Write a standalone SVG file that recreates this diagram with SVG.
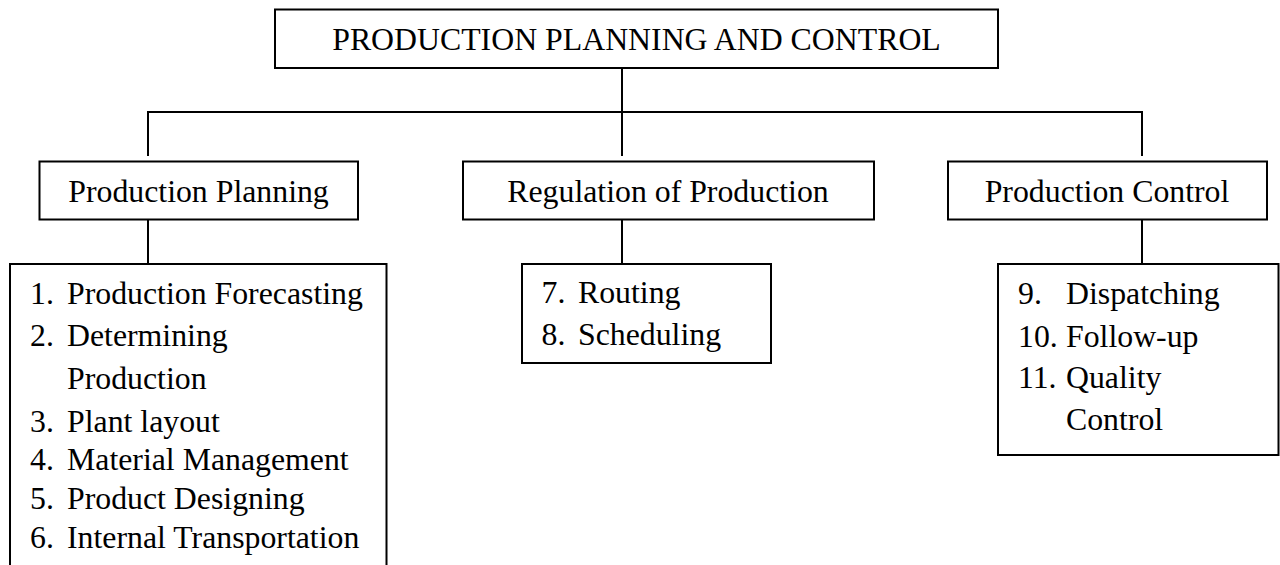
<svg xmlns="http://www.w3.org/2000/svg" width="1280" height="565" viewBox="0 0 1280 565">
<style>
  .box { fill: #ffffff; stroke: #000000; stroke-width: 2; }
  .conn line { stroke: #000000; stroke-width: 2; fill: none; }
  text { font-family: "Liberation Serif", "Times New Roman", serif; font-size: 31.8px; fill: #000000; }
  .c { text-anchor: middle; }
</style>
<rect x="0" y="0" width="1280" height="565" fill="#ffffff" stroke="none"/>
<g class="conn" id="connectors">
  <line x1="622" y1="68" x2="622" y2="156"/>
  <line x1="148" y1="112" x2="1142" y2="112"/>
  <line x1="148" y1="111" x2="148" y2="156"/>
  <line x1="1142" y1="111" x2="1142" y2="156"/>
  <line x1="148" y1="219.5" x2="148" y2="264"/>
  <line x1="622" y1="219.5" x2="622" y2="264"/>
  <line x1="1142" y1="219.5" x2="1142" y2="264"/>
</g>
<g id="root">
  <rect class="box" x="275" y="9.5" width="723" height="58.5"/>
  <text class="c" x="636.5" y="49.5">PRODUCTION PLANNING AND CONTROL</text>
</g>
<g id="production-planning">
  <rect class="box" x="39.5" y="161.5" width="318.5" height="58"/>
  <text class="c" x="198.5" y="202">Production Planning</text>
</g>
<g id="regulation">
  <rect class="box" x="463" y="161.5" width="411" height="58"/>
  <text class="c" x="668" y="202">Regulation of Production</text>
</g>
<g id="production-control">
  <rect class="box" x="948" y="161.5" width="319" height="58"/>
  <text class="c" x="1107" y="202">Production Control</text>
</g>
<g id="planning-list">
  <rect class="box" x="10" y="264" width="376.5" height="320"/>
  <text x="30" y="304">1.</text><text x="67" y="304">Production Forecasting</text>
  <text x="30" y="346">2.</text><text x="67" y="346">Determining</text>
  <text x="67" y="389">Production</text>
  <text x="30" y="432">3.</text><text x="67" y="432">Plant layout</text>
  <text x="30" y="470">4.</text><text x="67" y="470">Material Management</text>
  <text x="30" y="509">5.</text><text x="67" y="509">Product Designing</text>
  <text x="30" y="548">6.</text><text x="67" y="548">Internal Transportation</text>
</g>
<g id="regulation-list">
  <rect class="box" x="522" y="264" width="249" height="99"/>
  <text x="541.5" y="303">7.</text><text x="578" y="303">Routing</text>
  <text x="541.5" y="345">8.</text><text x="578" y="345">Scheduling</text>
</g>
<g id="control-list">
  <rect class="box" x="998" y="264" width="280.5" height="191"/>
  <text x="1018" y="304">9.</text><text x="1066" y="304">Dispatching</text>
  <text x="1018" y="347">10.</text><text x="1066" y="347">Follow-up</text>
  <text x="1018" y="388">11.</text><text x="1066" y="388">Quality</text>
  <text x="1066" y="430">Control</text>
</g>
</svg>
